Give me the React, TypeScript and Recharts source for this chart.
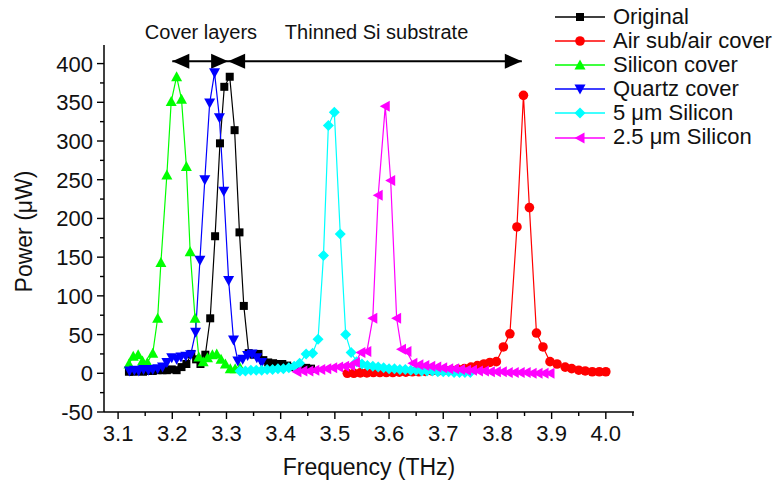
import React from 'react';
import { LineChart, Line, XAxis, YAxis, Legend, ReferenceLine, ReferenceDot } from 'recharts';

const FONT = '"Liberation Sans", Arial, Helvetica, sans-serif';

// ---- tick labels ----
const xMajorTicks = [3.1, 3.2, 3.3, 3.4, 3.5, 3.6, 3.7, 3.8, 3.9, 4.0];
const xMinorTicks = [3.15, 3.25, 3.35, 3.45, 3.55, 3.65, 3.75, 3.85, 3.95, 4.05];
const yMajorTicks = [-50, 0, 50, 100, 150, 200, 250, 300, 350, 400];
const yMinorTicks = [-25, 25, 75, 125, 175, 225, 275, 325, 375];
const xAxisTitle = 'Frequency (THz)';
const yAxisTitle = 'Power (\u03BCW)';

// ---- annotation ----
const coverLabel = 'Cover layers';
const substrateLabel = 'Thinned Si substrate';
const coverStart = 3.2;
const coverEnd = 3.303;
const substrateEnd = 3.845;
const arrowLevel = 403;
const labelLevel = 441;
const coverLabelCenter = 3.253;
const substrateLabelCenter = 3.577;

// ---- series: Original ----
const originalFreq = [3.120, 3.129, 3.138, 3.146, 3.155, 3.164, 3.173, 3.182, 3.190, 3.199, 3.208, 3.217, 3.226, 3.235, 3.244, 3.252, 3.261, 3.270, 3.279, 3.288, 3.296, 3.306, 3.315, 3.324, 3.332, 3.341, 3.350, 3.359, 3.368, 3.377, 3.386, 3.394, 3.403, 3.412, 3.421, 3.430, 3.438, 3.447, 3.456];
const originalPower = [2, 2, 3, 2, 3, 3, 4, 4, 4, 5, 4, 8, 12, 25, 18, 12, 24, 71, 177, 297, 370, 383, 314, 182, 87, 26, 24, 25, 17, 14, 13, 12, 12, 10, 8, 8, 7, 7, 6];

// ---- series: Air sub/air cover ----
const airFreq = [3.523, 3.535, 3.547, 3.559, 3.571, 3.583, 3.595, 3.607, 3.619, 3.631, 3.643, 3.655, 3.667, 3.679, 3.691, 3.703, 3.715, 3.727, 3.739, 3.751, 3.763, 3.775, 3.786, 3.798, 3.811, 3.823, 3.836, 3.848, 3.859, 3.872, 3.884, 3.897, 3.910, 3.925, 3.937, 3.950, 3.962, 3.975, 3.988, 4.000];
const airPower = [0, 0, 0.5, 0.5, 1, 1, 1, 1, 1.5, 1.5, 2, 2, 2.5, 3, 3, 4, 4, 5, 6, 8, 10, 12, 14, 15, 34, 51, 189, 359, 214, 52, 34, 15, 12, 8, 6, 4, 3, 2, 2, 2];

// ---- series: Silicon cover ----
const siliconFreq = [3.120, 3.128, 3.137, 3.145, 3.154, 3.164, 3.173, 3.179, 3.190, 3.198, 3.208, 3.217, 3.226, 3.233, 3.242, 3.249, 3.257, 3.265, 3.274, 3.282, 3.290, 3.298, 3.307, 3.316, 3.325];
const siliconPower = [12, 22, 24, 16, 14, 26, 71, 143, 256, 351, 383, 354, 267, 157, 71, 21, 15, 20, 24, 25, 18, 12, 6, 6, 7];

// ---- series: Quartz cover ----
const quartzFreq = [3.121, 3.130, 3.138, 3.147, 3.156, 3.164, 3.173, 3.182, 3.190, 3.199, 3.208, 3.216, 3.225, 3.234, 3.243, 3.251, 3.260, 3.269, 3.278, 3.287, 3.295, 3.304, 3.313, 3.321, 3.330, 3.339, 3.347, 3.356, 3.365];
const quartzPower = [3, 4, 3, 5, 4, 5, 6, 8, 14, 20, 18, 21, 22, 24, 53, 146, 250, 349, 388, 330, 235, 120, 43, 16, 18, 23, 25, 20, 14];

// ---- series: 5 um Silicon ----
const si5Freq = [3.325, 3.335, 3.345, 3.355, 3.365, 3.375, 3.385, 3.395, 3.405, 3.415, 3.425, 3.435, 3.447, 3.459, 3.469, 3.479, 3.488, 3.499, 3.510, 3.520, 3.530, 3.540, 3.550, 3.560, 3.570, 3.580, 3.590, 3.600, 3.610, 3.620, 3.630, 3.640, 3.650, 3.660, 3.670, 3.680, 3.690, 3.700, 3.710, 3.720, 3.730, 3.740, 3.750];
const si5Power = [3, 3, 4, 4, 4, 5, 5, 6, 6, 7, 9, 13, 25, 26, 44, 152, 320, 337, 180, 50, 27, 15, 12, 10, 9, 8, 7, 6, 6, 5, 5, 4, 4, 3, 3, 3, 2, 2, 2, 1, 1, 1, 1];

// ---- series: 2.5 um Silicon ----
const si25Freq = [3.430, 3.441, 3.452, 3.463, 3.474, 3.485, 3.496, 3.507, 3.518, 3.529, 3.538, 3.548, 3.559, 3.570, 3.580, 3.593, 3.603, 3.614, 3.623, 3.633, 3.644, 3.655, 3.666, 3.677, 3.688, 3.699, 3.710, 3.721, 3.732, 3.743, 3.754, 3.765, 3.776, 3.787, 3.798, 3.809, 3.820, 3.831, 3.842, 3.853, 3.864, 3.875, 3.886, 3.897];
const si25Power = [2, 3, 3, 4, 5, 6, 7, 8, 9, 10, 14, 27, 28, 71, 230, 345, 249, 71, 31, 28, 13, 11, 10, 9, 8, 7, 6, 6, 5, 4, 4, 3, 3, 2, 2, 2, 1, 1, 1, 1, 0, 0, 0, 0];

type Kind = 'square' | 'circle' | 'up' | 'down' | 'diamond' | 'left';

const zip = (xs: number[], ys: number[]) => xs.map((x, i) => ({ x, y: ys[i] }));

const series: { name: string; color: string; kind: Kind; data: { x: number; y: number }[] }[] = [
  { name: 'Original', color: '#000000', kind: 'square', data: zip(originalFreq, originalPower) },
  { name: 'Air sub/air cover', color: '#ff0000', kind: 'circle', data: zip(airFreq, airPower) },
  { name: 'Silicon cover', color: '#00ff00', kind: 'up', data: zip(siliconFreq, siliconPower) },
  { name: 'Quartz cover', color: '#0000ff', kind: 'down', data: zip(quartzFreq, quartzPower) },
  { name: '5 \u03BCm Silicon', color: '#00ffff', kind: 'diamond', data: zip(si5Freq, si5Power) },
  { name: '2.5 \u03BCm Silicon', color: '#ff00ff', kind: 'left', data: zip(si25Freq, si25Power) },
];

const Marker = ({ cx, cy, kind, color }: { cx: number; cy: number; kind: Kind; color: string }) => {
  if (cx == null || cy == null || isNaN(cx) || isNaN(cy)) return null;
  const s = 5.5;
  switch (kind) {
    case 'square':
      return <rect x={cx - 4} y={cy - 4} width={8} height={8} fill={color} />;
    case 'circle':
      return <circle cx={cx} cy={cy} r={4.8} fill={color} />;
    case 'up':
      return <polygon points={`${cx},${cy - s} ${cx + s},${cy + 4.5} ${cx - s},${cy + 4.5}`} fill={color} />;
    case 'down':
      return <polygon points={`${cx},${cy + s} ${cx + s},${cy - 4.5} ${cx - s},${cy - 4.5}`} fill={color} />;
    case 'diamond':
      return <polygon points={`${cx},${cy - s} ${cx + s},${cy} ${cx},${cy + s} ${cx - s},${cy}`} fill={color} />;
    case 'left':
      return <polygon points={`${cx - s},${cy} ${cx + 4.5},${cy - s} ${cx + 4.5},${cy + s}`} fill={color} />;
  }
  return null;
};

const isIn = (arr: number[], v: number) => arr.some((t) => Math.abs(t - v) < 1e-6);

const XTick = (props: any) => {
  const { x, y, payload } = props;
  const v = payload.value as number;
  const major = isIn(xMajorTicks, v);
  return (
    <g>
      <line x1={x} y1={y} x2={x} y2={y + (major ? 7 : 4)} stroke="#000" strokeWidth={1.4} />
      {major && (
        <text x={x} y={y + 29} textAnchor="middle" fontSize={22} fontFamily={FONT} fill="#111">
          {v.toFixed(1)}
        </text>
      )}
    </g>
  );
};

const YTick = (props: any) => {
  const { x, y, payload } = props;
  const v = payload.value as number;
  const major = isIn(yMajorTicks, v);
  return (
    <g>
      <line x1={x} y1={y} x2={x - (major ? 7 : 4)} y2={y} stroke="#000" strokeWidth={1.4} />
      {major && (
        <text x={x - 11} y={y + 8} textAnchor="end" fontSize={22} fontFamily={FONT} fill="#111">
          {String(v)}
        </text>
      )}
    </g>
  );
};

const XTitle = (props: any) => {
  const vb = props.viewBox || {};
  return (
    <text x={vb.x + vb.width / 2} y={vb.y + 63} textAnchor="middle" fontSize={23} fontFamily={FONT} fill="#111">
      {xAxisTitle}
    </text>
  );
};

const YTitle = (props: any) => {
  const vb = props.viewBox || {};
  const cx = vb.x - 50;
  const cy = vb.y + vb.height / 2 + 3;
  return (
    <text
      x={cx}
      y={cy}
      transform={`rotate(-90, ${cx}, ${cy})`}
      textAnchor="middle"
      dominantBaseline="central"
      fontSize={23}
      fontFamily={FONT}
      fill="#111"
    >
      {yAxisTitle}
    </text>
  );
};

const Arrowhead = ({ cx, cy, dir }: { cx: number; cy: number; dir: 'left' | 'right' }) => {
  const L = 17;
  const H = 7.5;
  const pts =
    dir === 'left'
      ? `${cx},${cy} ${cx + L},${cy - H} ${cx + L},${cy + H}`
      : `${cx},${cy} ${cx - L},${cy - H} ${cx - L},${cy + H}`;
  return <polygon points={pts} fill="#000" />;
};

const AnnotText = (text: string) => (p: any) => (
  <text x={p.cx} y={p.cy} textAnchor="middle" dominantBaseline="central" fontSize={20} fontFamily={FONT} fill="#111">
    {text}
  </text>
);

const LegendContent = () => (
  <div style={{ fontFamily: FONT, fontSize: 22, color: '#111', lineHeight: '24.1px' }}>
    {series.map((s) => (
      <div key={s.name} style={{ display: 'flex', alignItems: 'center', height: 24.1, whiteSpace: 'nowrap' }}>
        <svg width={50} height={24} style={{ display: 'block' }}>
          <line x1={0} y1={12} x2={50} y2={12} stroke={s.color} strokeWidth={1.3} />
          <Marker cx={25} cy={12} kind={s.kind} color={s.color} />
        </svg>
        <span style={{ marginLeft: 8 }}>{s.name}</span>
      </div>
    ))}
  </div>
);

export default function App() {
  return (
    <div style={{ position: 'absolute', left: 0, top: 0, width: 777, height: 482, background: '#fff' }}>
      <LineChart width={777} height={482} margin={{ top: 45, right: 143, left: 74, bottom: 40 }}>
        <XAxis
          type="number"
          dataKey="x"
          domain={[3.074, 4.052]}
          allowDataOverflow
          ticks={[...xMajorTicks, ...xMinorTicks].sort((a, b) => a - b)}
          interval={0}
          tick={<XTick />}
          tickLine={false}
          tickSize={0}
          tickMargin={0}
          axisLine={{ stroke: '#000', strokeWidth: 1.5 }}
          height={30}
          label={XTitle}
        />
        <YAxis
          type="number"
          dataKey="y"
          domain={[-50, 424]}
          allowDataOverflow
          ticks={[...yMajorTicks, ...yMinorTicks].sort((a, b) => a - b)}
          interval={0}
          tick={<YTick />}
          tickLine={false}
          tickSize={0}
          tickMargin={0}
          axisLine={{ stroke: '#000', strokeWidth: 1.5 }}
          width={30}
          label={YTitle}
        />
        {series.map((s) => (
          <Line
            key={s.name}
            name={s.name}
            data={s.data}
            dataKey="y"
            type="linear"
            stroke={s.color}
            strokeWidth={1.2}
            isAnimationActive={false}
            activeDot={false}
            dot={(p: any) => <Marker key={`${s.name}-${p.index}`} cx={p.cx} cy={p.cy} kind={s.kind} color={s.color} />}
          />
        ))}
        <ReferenceLine
          segment={[{ x: coverStart, y: arrowLevel }, { x: substrateEnd, y: arrowLevel }]}
          stroke="#000"
          strokeWidth={2}
          ifOverflow="visible"
        />
        <ReferenceDot x={coverStart} y={arrowLevel} ifOverflow="visible" shape={(p: any) => <Arrowhead cx={p.cx} cy={p.cy} dir="left" />} />
        <ReferenceDot x={coverEnd} y={arrowLevel} ifOverflow="visible" shape={(p: any) => <Arrowhead cx={p.cx} cy={p.cy} dir="right" />} />
        <ReferenceDot x={coverEnd} y={arrowLevel} ifOverflow="visible" shape={(p: any) => <Arrowhead cx={p.cx} cy={p.cy} dir="left" />} />
        <ReferenceDot x={substrateEnd} y={arrowLevel} ifOverflow="visible" shape={(p: any) => <Arrowhead cx={p.cx} cy={p.cy} dir="right" />} />
        <ReferenceDot x={coverLabelCenter} y={labelLevel} ifOverflow="visible" shape={AnnotText(coverLabel)} />
        <ReferenceDot x={substrateLabelCenter} y={labelLevel} ifOverflow="visible" shape={AnnotText(substrateLabel)} />
        <Legend
          layout="vertical"
          align="center"
          verticalAlign="middle"
          content={LegendContent}
          wrapperStyle={{ position: 'absolute', left: 555, top: 5, width: 222, height: 150 }}
        />
      </LineChart>
    </div>
  );
}
